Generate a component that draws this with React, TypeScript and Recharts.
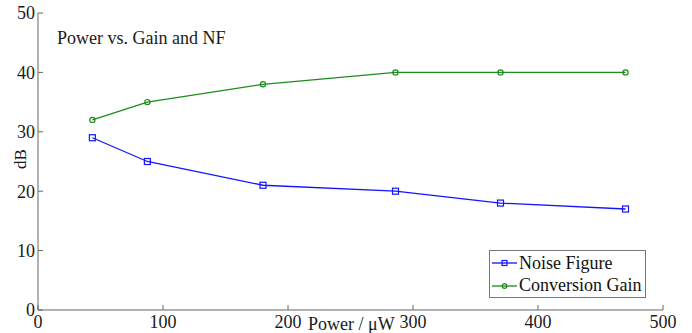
import React from 'react';
import { LineChart, Line, XAxis, YAxis, Legend, Label } from 'recharts';

const power = [43.5, 87.5, 180, 286, 370, 470];
const noiseFigure = [29, 25, 21, 20, 18, 17];
const conversionGain = [32, 35, 38, 40, 40, 40];
const xTicks = [0, 100, 200, 300, 400, 500];
const yTicks = [0, 10, 20, 30, 40, 50];

const data = power.map((p, i) => ({ power: p, nf: noiseFigure[i], cg: conversionGain[i] }));

const FONT = '"Liberation Serif", "Times New Roman", serif';
const BLUE = '#1414ff';
const GREEN = '#1c8c1c';
const AXIS = '#666';

const SquareDot = (props: any) => {
  const { cx, cy, index } = props;
  if (cx == null || cy == null) return null;
  return <rect key={`sq-${index}`} x={cx - 3} y={cy - 3} width={6} height={6} fill="none" stroke={BLUE} strokeWidth={1.2} />;
};

const CircleDot = (props: any) => {
  const { cx, cy, index } = props;
  if (cx == null || cy == null) return null;
  return <circle key={`ci-${index}`} cx={cx} cy={cy} r={2.6} fill="none" stroke={GREEN} strokeWidth={1.2} />;
};

const legendItems = [
  { label: 'Noise Figure', color: BLUE, marker: 'square' },
  { label: 'Conversion Gain', color: GREEN, marker: 'circle' },
];

const renderLegend = () => (
  <div
    style={{
      border: '1px solid #777',
      background: '#fff',
      width: 157,
      height: 48,
      boxSizing: 'border-box',
      paddingTop: 1,
      fontFamily: FONT,
      fontSize: 18,
      color: '#111',
    }}
  >
    {legendItems.map((item) => (
      <div key={item.label} style={{ display: 'flex', alignItems: 'center', height: 22.4, lineHeight: '22.4px' }}>
        <svg width={29} height={12} style={{ flex: 'none' }}>
          <line x1={2} y1={6} x2={27} y2={6} stroke={item.color} strokeWidth={1.3} />
          {item.marker === 'square' ? (
            <rect x={12} y={3.5} width={5} height={5} fill="none" stroke={item.color} strokeWidth={1.2} />
          ) : (
            <circle cx={14.5} cy={6} r={2.3} fill="none" stroke={item.color} strokeWidth={1.2} />
          )}
        </svg>
        <span style={{ whiteSpace: 'nowrap' }}>{item.label}</span>
      </div>
    ))}
  </div>
);

const tickStyle = { fill: '#1a1a1a', fontSize: 18, fontFamily: FONT };

// axis label and in-plot title, drawn at fixed spots like the MATLAB figure
const renderTexts = () => (
  <g fontFamily={FONT} fontSize={18} fill="#1a1a1a">
    <text x={308} y={330}>Power / μW</text>
    <text x={57} y={44}>Power vs. Gain and NF</text>
  </g>
);

export default function App() {
  return (
    <div style={{ position: 'absolute', left: 0, top: 0, width: 692, height: 333, background: '#fff' }}>
      <LineChart width={692} height={333} data={data} margin={{ top: 13, right: 29, bottom: 0, left: 0 }} style={{ fontFamily: FONT }}>
        <XAxis
          dataKey="power"
          type="number"
          domain={[0, 500]}
          ticks={xTicks}
          interval={0}
          height={23}
          stroke={AXIS}
          tickSize={-5}
          tickMargin={10}
          tick={tickStyle}
        >
          <Label content={renderTexts} />
        </XAxis>
        <XAxis
          xAxisId="top"
          orientation="top"
          type="number"
          domain={[0, 500]}
          ticks={xTicks}
          interval={0}
          height={0}
          stroke={AXIS}
          tickSize={-5}
          tick={false}
        />
        <YAxis
          domain={[0, 50]}
          ticks={yTicks}
          interval={0}
          width={38}
          stroke={AXIS}
          tickSize={-5}
          tickMargin={8}
          tick={tickStyle}
        >
          <Label
            content={() => (
              <text x={26} y={159} transform="rotate(-90 26 159)" textAnchor="middle" fontFamily={FONT} fontSize={17} fill="#1a1a1a">
                dB
              </text>
            )}
          />
        </YAxis>
        <YAxis
          yAxisId="right"
          orientation="right"
          domain={[0, 50]}
          ticks={yTicks}
          interval={0}
          width={0}
          stroke={AXIS}
          tickSize={-5}
          tick={false}
        />
        <Legend
          layout="vertical"
          align="center"
          verticalAlign="middle"
          content={renderLegend}
          wrapperStyle={{ left: 489, top: 250, right: 'auto', bottom: 'auto', width: 157, height: 48 }}
        />
        <Line
          type="linear"
          dataKey="nf"
          name="Noise Figure"
          stroke={BLUE}
          strokeWidth={1.3}
          dot={<SquareDot />}
          activeDot={false}
          isAnimationActive={false}
        />
        <Line
          type="linear"
          dataKey="cg"
          name="Conversion Gain"
          stroke={GREEN}
          strokeWidth={1.3}
          dot={<CircleDot />}
          activeDot={false}
          isAnimationActive={false}
        />
      </LineChart>
    </div>
  );
}
